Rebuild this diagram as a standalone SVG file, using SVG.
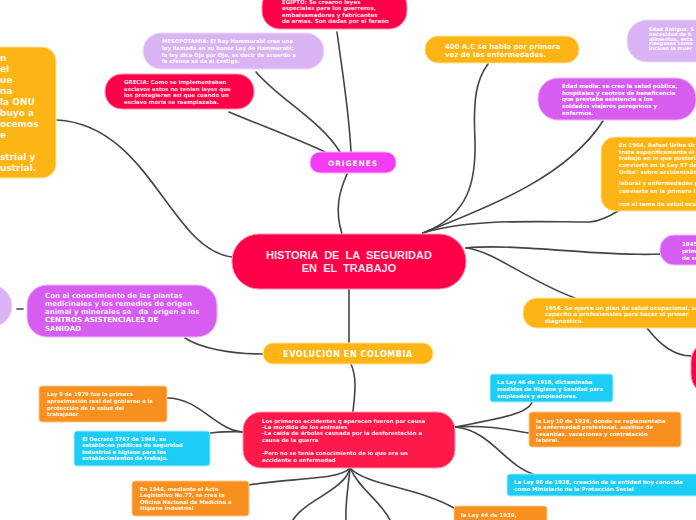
<svg xmlns="http://www.w3.org/2000/svg" width="696" height="520" viewBox="0 0 696 520">
<style>
.t{font-family:"DejaVu Sans","Verdana",sans-serif;font-weight:bold;}
.s{font-size:5.5px;}
.w{fill:#ffffff;}
.p{fill:#ffe3ec;}
.c{fill:#fff7e6;}
.red{fill:#ff0048;stroke:#ff8fb0;stroke-width:1;}
.red2{fill:#fd1a4b;stroke:#ff9ab2;stroke-width:1;}
.mag{fill:#f43cf2;stroke:#fbb0f8;stroke-width:1;}
.lav{fill:#d9b3f3;stroke:#eedaff;stroke-width:1;}
.pur{fill:#d65def;stroke:#efb8fa;stroke-width:1;}
.yel{fill:#fdb515;stroke:#ffe39a;stroke-width:1;}
.org{fill:#f7901f;stroke:#ffc98e;stroke-width:1;}
.cya{fill:#1ccdf6;stroke:#a6ecfc;stroke-width:1;}
#connectors path{fill:none;stroke:#444444;stroke-width:1.6;stroke-linecap:round;}
</style>
<rect width="696" height="520" fill="#ffffff"/>
<g id="connectors">
<path d="M342 234 C334 208 340 190 347 174"/>
<path d="M351 152 C349 110 342 70 337 32"/>
<path d="M340 152 C320 120 280 100 256 72"/>
<path d="M325 152 C300 140 260 125 229 112"/>
<path d="M232 257 C170 250 150 125 57 120"/>
<path d="M423 233 C470 215 476 180 475 140 C473 100 476 80 488 64"/>
<path d="M423 233 C480 210 565 180 603 121"/>
<path d="M423 233 C470 218 540 222 590 222 C600 221 610 216 618 211"/>
<path d="M466 248 C520 243 600 257 660 254"/>
<path d="M466 248 C492 250 530 282 575 298"/>
<path d="M647 328 C660 345 675 356 691 356"/>
<path d="M349 289 C349 310 349 325 349 343"/>
<path d="M263 354 C230 354 200 348 185 338"/>
<path d="M17 309 L23 309"/>
<path d="M351 364 C358 380 354 398 353 412"/>
<path d="M167 398 C200 398 215 430 243 432"/>
<path d="M210 433 C222 432 232 431 243 432"/>
<path d="M350 468 C340 480 290 478 249 485"/>
<path d="M350 468 C345 490 305 500 293 520"/>
<path d="M350 468 C348 490 345 505 346 520"/>
<path d="M350 468 C360 490 380 500 390 520"/>
<path d="M350 468 C365 485 420 488 454 508"/>
<path d="M455 427 C490 420 528 415 532 402"/>
<path d="M455 427 C490 425 510 430 529 433"/>
<path d="M455 427 C490 430 505 465 533 474"/>
</g>
<g id="central">
<rect class="red" x="232" y="234" width="234" height="55" rx="27"/>
<text x="349" y="259" text-anchor="middle" font-family="Liberation Sans, Arial, sans-serif" font-weight="bold" font-size="11" class="p" xml:space="preserve">HISTORIA  DE  LA  SEGURIDAD</text>
<text x="349" y="272" text-anchor="middle" font-family="Liberation Sans, Arial, sans-serif" font-weight="bold" font-size="11" class="p" xml:space="preserve">EN  EL  TRABAJO</text>
</g>
<g id="origenes">
<rect class="mag" x="310" y="152" width="86" height="21" rx="10"/>
<text x="353" y="166" text-anchor="middle" class="t w" font-size="7.5" letter-spacing="0.9">ORIGENES</text>
</g>
<g id="egipto">
<rect class="red" x="262" y="-12" width="145" height="41" rx="18"/>
<text class="t s p" font-size="5.4"><tspan x="282" y="3.8">EGIPTO: Se crearon leyes</tspan><tspan x="282" y="10.3">especiales para los guerreros,</tspan><tspan x="282" y="16.8">embalsamadores y fabricantes</tspan><tspan x="282" y="23.3">de armas. Son dadas por el faraón</tspan></text>
</g>
<g id="mesopotamia">
<rect class="lav" x="143" y="33" width="181" height="36" rx="18"/>
<text class="t w" font-size="5.3"><tspan x="162" y="43">MESOPOTAMIA: El Rey Hammurabi crea una</tspan><tspan x="162" y="49.8">ley llamada en su honor Ley de Hammurabi;</tspan><tspan x="162" y="56.6">la ley dice Ojo por Ojo, es decir de acuerdo a</tspan><tspan x="162" y="63.3">la ofensa se da el castigo.</tspan></text>
</g>
<g id="grecia">
<rect class="red" x="105" y="74" width="149" height="35" rx="17"/>
<text class="t p" font-size="5.45"><tspan x="124" y="83.7">GRECIA: Como se implementaban</tspan><tspan x="124" y="90.5">esclavos estos no tenian leyes que</tspan><tspan x="124" y="97.3">los protegieran así que cuando un</tspan><tspan x="124" y="104">esclavo moría se reemplazaba.</tspan></text>
</g>
<g id="left-orange">
<rect class="yel" x="-60" y="47" width="116" height="131" rx="14"/>
<text class="t c" font-size="9"><tspan x="0" y="61">n</tspan><tspan x="0" y="72">el</tspan><tspan x="0" y="83">ue</tspan><tspan x="0" y="94">na</tspan><tspan x="0" y="105">la ONU</tspan><tspan x="0" y="116">buyo a</tspan><tspan x="0" y="127">ocemos</tspan><tspan x="0" y="138">e</tspan><tspan x="0" y="160">strial y</tspan><tspan x="0" y="171">ustrial.</tspan></text>
</g>
<g id="n400ac">
<rect class="yel" x="425" y="36" width="154" height="27" rx="13"/>
<text class="t c" font-size="7"><tspan x="445" y="48.8">400 A.C se habla por primera</tspan><tspan x="445" y="57.3">vez de las enfermedades.</tspan></text>
</g>
<g id="edad-antigua">
<rect class="lav" x="627" y="20" width="100" height="42" rx="20"/>
<text class="t w" font-size="5"><tspan x="649" y="31">Edad Antigua: S</tspan><tspan x="649" y="35.8">necesidad de h</tspan><tspan x="649" y="40.6">alimentos, esta</tspan><tspan x="649" y="45.4">riesgosas como</tspan><tspan x="649" y="50.2">incluso la muer</tspan></text>
</g>
<g id="edad-media">
<rect class="pur" x="538" y="78" width="158" height="42" rx="20"/>
<text class="t s w"><tspan x="562" y="88">Edad media: se creo la salud pública,</tspan><tspan x="562" y="94.7">hospitales y centros de beneficencia</tspan><tspan x="562" y="101.3">que prestaba asistencia a los</tspan><tspan x="562" y="108">soldados viajeros peregrinos y</tspan><tspan x="562" y="114.7">enfermos.</tspan></text>
</g>
<g id="n1904">
<rect class="yel" x="601" y="137" width="120" height="74" rx="14"/>
<text class="t s c"><tspan x="619" y="147">En 1904, Rafael Uribe Ur</tspan><tspan x="619" y="153.7">trata específicamente el</tspan><tspan x="619" y="160.3">trabajo en lo que posteri</tspan><tspan x="619" y="167">convierte en la Ley 57 de</tspan><tspan x="619" y="173.7">Uribe" sobre accidentalid</tspan><tspan x="619" y="185.3">laboral y enfermedades p</tspan><tspan x="619" y="192.5">convierte en la primera l</tspan><tspan x="619" y="206">con el tema de salud ocu</tspan></text>
</g>
<g id="n1945">
<rect class="pur" x="660" y="235" width="60" height="30" rx="14"/>
<text class="t s w"><tspan x="682" y="246">1945</tspan><tspan x="682" y="253">prim</tspan><tspan x="682" y="259.5">de su</tspan></text>
</g>
<g id="n1954">
<rect class="yel" x="523" y="298" width="200" height="30" rx="14"/>
<text class="t c" font-size="5.6"><tspan x="545" y="309.7">1954: Se ejerce un plan de salud ocupacional, se</tspan><tspan x="545" y="316.2">capacito a profesionales para hacer el primer</tspan><tspan x="545" y="323">diagnostico.</tspan></text>
</g>
<g id="right-red">
<rect class="red" x="691" y="340" width="60" height="56" rx="22"/>
</g>
<g id="left-lavender">
<rect class="lav" x="-40" y="285" width="52" height="42" rx="21"/>
</g>
<g id="plantas">
<rect class="pur" x="27" y="285" width="190" height="52" rx="20"/>
<text class="t" font-size="7"><tspan x="45" y="297.5" fill="#f6e6fb">Con el conocimiento de las plantas</tspan><tspan x="45" y="305.8" fill="#f6e6fb">medicinales y los remedios de origen</tspan><tspan x="45" y="314.1" fill="#f6e6fb" xml:space="preserve">animal y minerales se   da  origen a los</tspan><tspan x="45" y="322.2" fill="#ffffff">CENTROS ASISTENCIALES DE</tspan><tspan x="45" y="331.2" fill="#ffffff">SANIDAD</tspan></text>
</g>
<g id="evolucion">
<rect class="yel" x="263" y="343" width="170" height="21" rx="10"/>
<text x="348" y="357" text-anchor="middle" class="t w" font-size="8" letter-spacing="0.6">EVOLUCIÓN EN COLOMBIA</text>
</g>
<g id="primeros">
<rect class="red2" x="243" y="412" width="212" height="56" rx="18"/>
<text class="t p" font-size="5.4"><tspan x="262" y="422.7">Los primeros accidentes q aparecen fueron por causa</tspan><tspan x="262" y="428.9">-La mordida de los animales</tspan><tspan x="262" y="435.3">-La caída de árboles causada por la desforestación a</tspan><tspan x="262" y="442">causa de la guerra</tspan><tspan x="262" y="454.7">-Pero no se tenía conocimiento de lo que era un</tspan><tspan x="262" y="462">accidente o enfermedad</tspan></text>
</g>
<g id="ley9">
<rect class="org" x="39" y="386" width="128" height="36" rx="3"/>
<text class="t c" font-size="5.3"><tspan x="47" y="396">Ley 9 de 1979 fue la primera</tspan><tspan x="47" y="402.8">aproximación real del gobierno a la</tspan><tspan x="47" y="409.6">protección de la salud del</tspan><tspan x="47" y="416">trabajador</tspan></text>
</g>
<g id="decreto">
<rect class="cya" x="74" y="431" width="136" height="35" rx="3"/>
<text class="t w" font-size="5.3"><tspan x="82" y="441">El Decreto 3767 de 1949, se</tspan><tspan x="82" y="447.3">establecen políticas de seguridad</tspan><tspan x="82" y="453.7">industrial e higiene para los</tspan><tspan x="82" y="460">establecimientos de trabajo.</tspan></text>
</g>
<g id="n1946">
<rect class="org" x="132" y="481" width="117" height="35" rx="3"/>
<text class="t c" font-size="5.3"><tspan x="140" y="490.7">En 1946, mediante el Acto</tspan><tspan x="140" y="497">Legislativo No.77, se crea la</tspan><tspan x="140" y="503.7">Oficina Nacional de Medicina e</tspan><tspan x="140" y="509.8">Higiene Industrial</tspan></text>
</g>
<g id="ley46">
<rect class="cya" x="490" y="374" width="123" height="28" rx="3"/>
<text class="t w" font-size="5.3"><tspan x="497" y="384">La Ley 46 de 1918, dictaminaba</tspan><tspan x="497" y="391">medidas de Higiene y Sanidad para</tspan><tspan x="497" y="397.7">empleados y empleadores.</tspan></text>
</g>
<g id="ley10">
<rect class="org" x="529" y="412" width="152" height="35" rx="3"/>
<text class="t c" font-size="5.4"><tspan x="536" y="423">la Ley 10 de 1934, donde se reglamentaba</tspan><tspan x="536" y="429.3">la enfermedad profesional, auxilios de</tspan><tspan x="536" y="436">cesantías, vacaciones y contratación</tspan><tspan x="536" y="442">laboral.</tspan></text>
</g>
<g id="ley96">
<rect class="cya" x="507" y="474" width="192" height="22" rx="3"/>
<text class="t w" font-size="5.4"><tspan x="514" y="484.3">La Ley 96 de 1938, creación de la entidad hoy conocida</tspan><tspan x="514" y="490.8">como Ministerio de la Protección Social</tspan></text>
</g>
<g id="ley44">
<rect class="org" x="454" y="506" width="93" height="24" rx="3"/>
<text class="t c" font-size="5.4"><tspan x="461" y="517">la Ley 44 de 1939,</tspan></text>
</g>
</svg>
